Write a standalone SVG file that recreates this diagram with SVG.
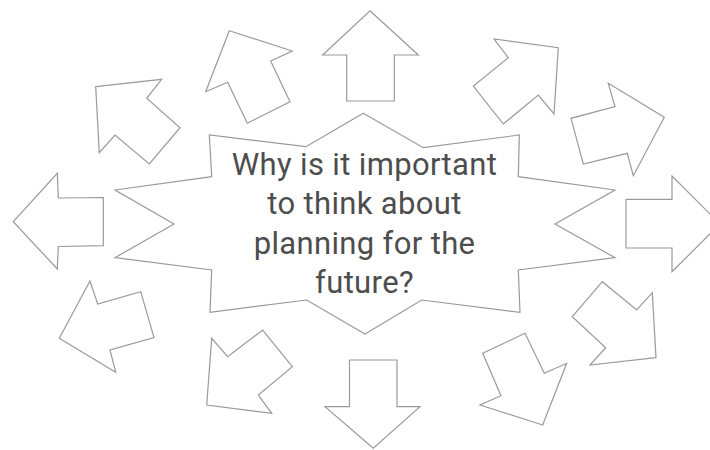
<svg xmlns="http://www.w3.org/2000/svg" width="710" height="450" viewBox="0 0 710 450">
<style>
.s{fill:#fff;stroke:#9a9a9a;stroke-width:1.2;stroke-linejoin:miter}
.t{font-family:Roboto,"Liberation Sans",sans-serif;font-size:31px;letter-spacing:0.35px;fill:#4d4d4d;text-anchor:middle}
</style>
<rect width="710" height="450" fill="#fff"/>
<g id="arrows">
<polygon id="a-up" class="s" points="370,10.7 418.3,55 394.3,55 394.3,101 346.7,101 346.7,55 322.7,55"/>
<polygon id="a-upleft" class="s" points="229.3,30.7 292.3,51 270.7,61 290,101.7 247.3,123.3 227.7,82.3 205.7,91.7"/>
<polygon id="a-nw" class="s" points="95.7,86.7 161.7,79.3 146.7,98.3 180,127.7 149.3,164 115,135 99.3,152.7"/>
<polygon id="a-left" class="s" points="13.3,221.7 57.3,173.3 58.3,198 103.3,197.5 103.3,245.7 58.3,246.5 57.3,269"/>
<polygon id="a-lowleft" class="s" points="59.3,338.3 90,281 97.7,304 140.7,291.7 154,337.7 110,350 115.7,372.3"/>
<polygon id="a-sw" class="s" points="206.7,405 211.7,338.3 227.7,356.7 262.7,330 292.3,366.7 258.3,395 271.7,413.3"/>
<polygon id="a-down" class="s" points="373.3,448.3 325,406.7 349.5,406.7 349.5,360 397,360 397,406.7 420,406.7"/>
<polygon id="a-lowright" class="s" points="542.7,425 480,405 501,395.7 482.7,353.3 525,333.3 544.3,373.3 566.7,363.3"/>
<polygon id="a-se" class="s" points="656,357.7 590,365 605.7,347.7 572.3,316.7 602.3,281.7 636.7,310 652.3,292.7"/>
<polygon id="a-right" class="s" points="720,224 672,176 672,199.3 626,199.3 626,248 672,248 672,271.7"/>
<polygon id="a-upright" class="s" points="664.3,117.3 633.3,175.7 627.3,153.3 583.3,164 571,118.3 615,106.7 608.3,83.3"/>
<polygon id="a-ne" class="s" points="558.3,47.7 554,114 538.3,95 503.3,124 473.3,86 508.3,57.7 494,39"/>
</g>
<g id="star">
<polygon class="s" points="363.3,113.3 423.3,147.7 519.3,135 518.3,176.7 615,190 555,224 615,257.7 518.3,270 520,312.3 421.7,300 365,334 306.7,300 210,312.3 211.7,270 115,257.7 174,224 115,190 211.7,176.7 209.3,135 306,146.7"/>
<text class="t"><tspan x="364.5" y="175">Why is it important</tspan><tspan x="364.5" y="214">to think about</tspan><tspan x="364.5" y="254">planning for the</tspan><tspan x="364.5" y="293">future?</tspan></text>
</g>
</svg>
